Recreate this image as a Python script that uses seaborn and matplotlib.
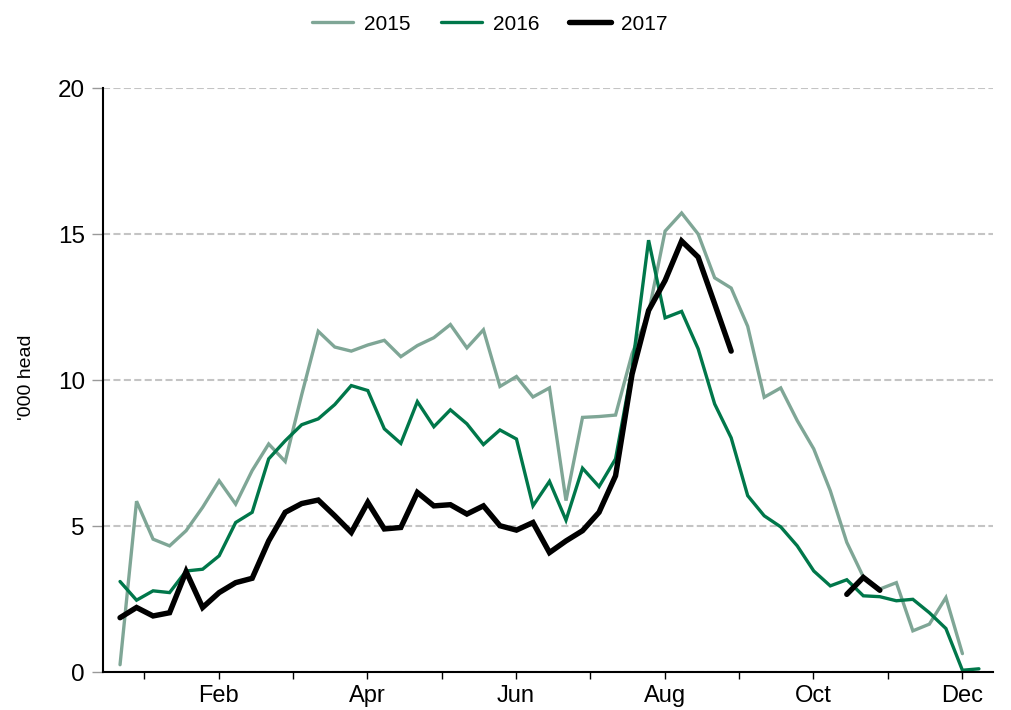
# -*- coding: utf-8 -*-
import numpy as np
import pandas as pd
import matplotlib
matplotlib.use("Agg")
import matplotlib.pyplot as plt
import seaborn as sns

nan = np.nan

# weekly values, '000 head
weeks = list(range(53))
v2015 = [0.25, 5.85, 4.55, 4.32, 4.84, 5.64, 6.55, 5.75, 6.9, 7.81,
         7.21, 9.5, 11.67, 11.13, 10.99, 11.2, 11.36, 10.8, 11.18, 11.45,
         11.9, 11.1, 11.72, 9.78, 10.12, 9.42, 9.73, 5.87, 8.72, 8.75,
         8.8, 10.9, 12.3, 15.1, 15.72, 15.0, 13.5, 13.15, 11.84, 9.41,
         9.73, 8.61, 7.64, 6.21, 4.44, 3.26, 2.84, 3.06, 1.41, 1.64,
         2.55, 0.63, nan]
v2016 = [3.1, 2.46, 2.78, 2.72, 3.46, 3.52, 3.98, 5.12, 5.47, 7.3,
         7.92, 8.47, 8.67, 9.16, 9.81, 9.64, 8.33, 7.83, 9.26, 8.4,
         8.98, 8.5, 7.79, 8.29, 7.98, 5.69, 6.53, 5.2, 6.98, 6.35,
         7.3, 10.4, 14.79, 12.13, 12.35, 11.07, 9.18, 8.02, 6.04, 5.35,
         4.97, 4.32, 3.46, 2.95, 3.16, 2.61, 2.58, 2.44, 2.49, 2.03,
         1.49, 0.06, 0.11]
v2017 = [1.86, 2.21, 1.92, 2.03, 3.44, 2.21, 2.72, 3.06, 3.21, 4.49,
         5.47, 5.77, 5.89, 5.35, 4.78, 5.81, 4.9, 4.95, 6.15, 5.69,
         5.73, 5.41, 5.69, 5.01, 4.86, 5.12, 4.09, 4.49, 4.84, 5.47,
         6.72, 10.2, 12.38, 13.41, 14.76, 14.21, 12.61, 10.99, nan, nan,
         nan, nan, nan, nan, 2.66, 3.24, 2.8, nan, nan, nan,
         nan, nan, nan]

years = ["2015", "2016", "2017"]
month_labels = ["", "Feb", "", "Apr", "", "Jun", "", "Aug", "", "Oct", "", "Dec"]

colors = {"2015": "#7fa696", "2016": "#00774a", "2017": "#000000"}
widths = {"2015": 2.4, "2016": 2.4, "2017": 3.9}

# long form, split into segments so gaps stay gaps
frames = []
for yr, vals in zip(years, [v2015, v2016, v2017]):
    d = pd.DataFrame({"week": weeks, "value": vals, "year": yr})
    d["segment"] = yr + "_" + d["value"].isna().cumsum().astype(str)
    frames.append(d.dropna())
df = pd.concat(frames, ignore_index=True)

sns.set_style("white")
plt.rcParams["font.family"] = ["Liberation Sans", "DejaVu Sans"]
plt.rcParams["text.color"] = "black"
plt.rcParams["axes.labelcolor"] = "black"

fig = plt.figure(figsize=(10.12, 7.10), dpi=100)
ax = fig.add_axes([0.1018, 0.0535, 0.8794, 0.8225])

sns.lineplot(data=df, x="week", y="value", hue="year", size="year",
             hue_order=years, size_order=years,
             palette=colors, sizes=widths, units="segment", estimator=None,
             solid_joinstyle="miter", ax=ax)

ax.set_xlim(-1.03, 52.85)
ax.set_ylim(0, 20)
ax.set_yticks([0, 5, 10, 15, 20])
ax.set_xticks([1.47 + 4.5 * k for k in range(12)])
ax.set_xticklabels(month_labels)

ax.grid(axis="y", linestyle=(0, (3.4, 1.6)), color="#c4c4c4", linewidth=1.5)
ax.grid(axis="x", visible=False)
ax.set_axisbelow(True)

for s in ["top", "right"]:
    ax.spines[s].set_visible(False)
for s in ["left", "bottom"]:
    ax.spines[s].set_color("black")
    ax.spines[s].set_linewidth(1.5)

ax.tick_params(axis="x", direction="out", length=5, width=1, color="black",
               labelsize=17, labelcolor="black", pad=4, bottom=True)
ax.tick_params(axis="y", direction="out", length=8, width=1, color="#999999",
               labelsize=17.5, labelcolor="black", pad=5, left=True)

ax.set_xlabel("")
ax.set_ylabel("'000 head", fontsize=14)
ax.yaxis.set_label_coords(-0.076, 0.505)

sns.move_legend(ax, "center", bbox_to_anchor=(0.484, 0.966),
                bbox_transform=fig.transFigure, ncol=3, title=None,
                frameon=False, fontsize=15, handlelength=2.0,
                handletextpad=0.5, columnspacing=1.45)

fig.savefig("out.png", dpi=100)
